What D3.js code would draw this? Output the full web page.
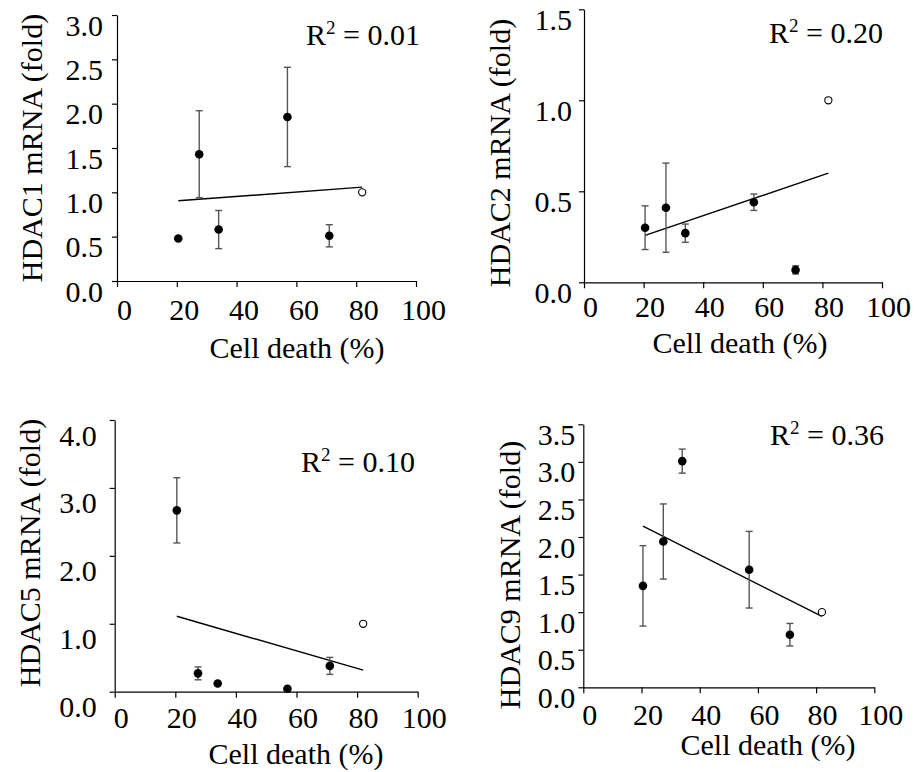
<!DOCTYPE html>
<html>
<head>
<meta charset="utf-8">
<script src="https://cdn.jsdelivr.net/npm/d3@7"></script>
<style>
  body { margin: 0; background: #fff; }
  svg text { font-family: "Liberation Serif", "Times New Roman", serif; fill: #000; }
</style>
</head>
<body>
<script>
// shared x values (cell death %), last point is the control (open circle)
var cellDeath = [20.5, 27.5, 34, 57, 71];
var controlDeath = 82;
var controlFold = 1.0;

var genes = ["HDAC1", "HDAC2", "HDAC5", "HDAC9"];
var rSquared = ["0.01", "0.20", "0.10", "0.36"];
var xTicks = [0, 20, 40, 60, 80, 100];

var hdac1Mean = [0.48, 1.43, 0.58, 1.85, 0.51];
var hdac1Err = [0, 0.49, 0.215, 0.56, 0.125];
var hdac2Mean = [0.30, 0.41, 0.27, 0.44, 0.068];
var hdac2Err = [0.12, 0.245, 0.05, 0.045, 0.022];
var hdac5Mean = [2.67, 0.27, 0.12, 0.044, 0.38];
var hdac5Err = [0.48, 0.095, 0, 0, 0.125];
var hdac9Mean = [1.35, 1.94, 3.01, 1.565, 0.70];
var hdac9Err = [0.535, 0.50, 0.16, 0.51, 0.15];

var yMax = [3.0, 1.5, 4.0, 3.5];
var yStep = [0.5, 0.5, 1.0, 0.5];

var means = [hdac1Mean, hdac2Mean, hdac5Mean, hdac9Mean];
var errs = [hdac1Err, hdac2Err, hdac5Err, hdac9Err];

// panel layout (pixels)
var layout = [
  { l: 117, r: 416, t: 15, b: 281, ylx: 42, yly: 148, xlx: 297, xly: 358, tkY: 320, tkDx: 7, ylGap: 14, ylDy: 20, rx: 306, ry: 45 },
  { l: 584, r: 882, t: 9.3, b: 282.3, ylx: 510, yly: 153, xlx: 740, xly: 353, tkY: 317, tkDx: 6, ylGap: 12, ylDy: 20, rx: 769, ry: 43 },
  { l: 114.7, r: 417.7, t: 420, b: 691.7, ylx: 40, yly: 553, xlx: 296, xly: 764, tkY: 728, tkDx: 6, ylGap: 18, ylDy: 25, rx: 301, ry: 472 },
  { l: 583.3, r: 874.3, t: 424.3, b: 687.3, ylx: 520, yly: 575, xlx: 768, xly: 755, tkY: 725, tkDx: 6, ylGap: 8, ylDy: 20, rx: 770, ry: 445 }
];

var width = 922, height = 772;
var fontSize = 30;
var serif = "'Liberation Serif', 'Times New Roman', serif";

var svg = d3.select("body").append("svg")
  .attr("width", width)
  .attr("height", height)
  .attr("font-family", serif);

function linearFit(xs, ys) {
  var mx = d3.mean(xs), my = d3.mean(ys);
  var sxy = 0, sxx = 0;
  for (var i = 0; i < xs.length; i++) {
    sxy += (xs[i] - mx) * (ys[i] - my);
    sxx += (xs[i] - mx) * (xs[i] - mx);
  }
  var slope = sxy / sxx;
  return function(x) { return my + slope * (x - mx); };
}

genes.forEach(function(gene, p) {
  var L = layout[p];
  var g = svg.append("g");

  var x = d3.scaleLinear().domain([0, 100]).range([L.l, L.r]);
  var y = d3.scaleLinear().domain([0, yMax[p]]).range([L.b, L.t]);
  var yTicks = d3.range(0, yMax[p] + 1e-9, yStep[p]);

  // x axis
  var xAxis = g.append("g")
    .attr("transform", "translate(0," + L.b + ")")
    .call(d3.axisBottom(x).tickValues(xTicks).tickSize(6).tickSizeOuter(0))
    .attr("font-family", serif)
    .attr("font-size", fontSize);
  xAxis.select(".domain").attr("stroke", "#000").attr("stroke-width", 1.2);
  xAxis.selectAll(".tick line").attr("stroke", "#000").attr("stroke-width", 1.2);
  xAxis.selectAll(".tick text")
    .attr("y", L.tkY - L.b)
    .attr("dy", 0)
    .attr("dx", L.tkDx)
    .attr("fill", "#000");

  // y axis
  var yAxis = g.append("g")
    .attr("transform", "translate(" + L.l + ",0)")
    .call(d3.axisLeft(y).tickValues(yTicks).tickFormat(d3.format(".1f")).tickSize(5).tickSizeOuter(0))
    .attr("font-family", serif)
    .attr("font-size", fontSize);
  yAxis.select(".domain").attr("stroke", "#000").attr("stroke-width", 1.2);
  yAxis.selectAll(".tick line").attr("stroke", "#000").attr("stroke-width", 1.2);
  yAxis.selectAll(".tick text")
    .attr("x", -L.ylGap)
    .attr("dy", 0)
    .attr("y", L.ylDy)
    .attr("fill", "#000");

  // axis titles
  g.append("text")
    .attr("transform", "translate(" + L.ylx + "," + L.yly + ") rotate(-90)")
    .attr("text-anchor", "middle")
    .style("font-size", fontSize + "px")
    .text(gene + " mRNA (fold)");

  g.append("text")
    .attr("x", L.xlx)
    .attr("y", L.xly)
    .attr("text-anchor", "middle")
    .style("font-size", fontSize + "px")
    .text("Cell death (%)");

  // R squared
  var rt = g.append("text")
    .attr("x", L.rx)
    .attr("y", L.ry)
    .style("font-size", fontSize + "px");
  rt.append("tspan").text("R");
  rt.append("tspan").attr("dy", -11).style("font-size", "19px").text("2");
  rt.append("tspan").attr("dy", 11).text(" = " + rSquared[p]);

  // regression line through all six points (incl. control)
  var xs = cellDeath.concat([controlDeath]);
  var ys = means[p].concat([controlFold]);
  var fit = linearFit(xs, ys);
  var x0 = d3.min(xs), x1 = d3.max(xs);
  g.append("line")
    .attr("x1", x(x0)).attr("y1", y(fit(x0)))
    .attr("x2", x(x1)).attr("y2", y(fit(x1)))
    .attr("stroke", "#000")
    .attr("stroke-width", 1.4);

  // error bars
  var pts = cellDeath.map(function(d, i) {
    return { x: d, y: means[p][i], e: errs[p][i] };
  });
  var eb = g.selectAll(".eb").data(pts.filter(function(d) { return d.e > 0; }))
    .enter().append("g").attr("class", "eb")
    .attr("stroke", "#555").attr("stroke-width", 1.4);
  eb.append("line")
    .attr("x1", function(d) { return x(d.x); })
    .attr("x2", function(d) { return x(d.x); })
    .attr("y1", function(d) { return y(d.y + d.e); })
    .attr("y2", function(d) { return y(d.y - d.e); });
  eb.append("line")
    .attr("x1", function(d) { return x(d.x) - 3.5; })
    .attr("x2", function(d) { return x(d.x) + 3.5; })
    .attr("y1", function(d) { return y(d.y + d.e); })
    .attr("y2", function(d) { return y(d.y + d.e); });
  eb.append("line")
    .attr("x1", function(d) { return x(d.x) - 3.5; })
    .attr("x2", function(d) { return x(d.x) + 3.5; })
    .attr("y1", function(d) { return y(d.y - d.e); })
    .attr("y2", function(d) { return y(d.y - d.e); });

  // points
  g.selectAll(".pt").data(pts).enter().append("circle")
    .attr("class", "pt")
    .attr("cx", function(d) { return x(d.x); })
    .attr("cy", function(d) { return y(d.y); })
    .attr("r", 4.3)
    .attr("fill", "#000");

  // control (open circle)
  g.append("circle")
    .attr("cx", x(controlDeath))
    .attr("cy", y(controlFold))
    .attr("r", 3.6)
    .attr("fill", "#fff")
    .attr("stroke", "#000")
    .attr("stroke-width", 1.1);
});
</script>
</body>
</html>
